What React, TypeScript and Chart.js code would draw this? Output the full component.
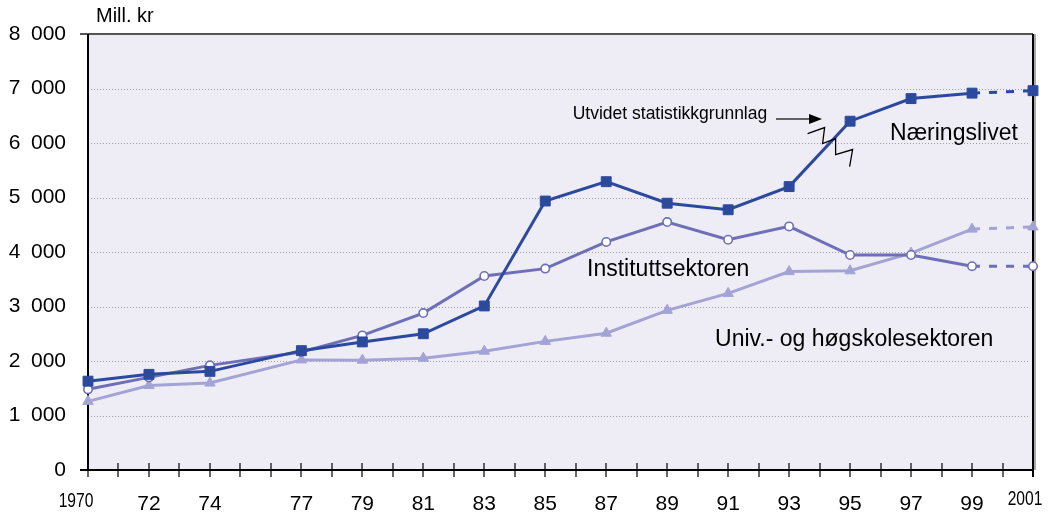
import React, { useEffect, useRef } from "react";
import { Chart, registerables } from "chart.js";

Chart.register(...registerables);

const years = [1970, 1972, 1974, 1977, 1979, 1981, 1983, 1985, 1987, 1989, 1991, 1993, 1995, 1997, 1999, 2001];
const naeringslivet = [1630, 1755, 1810, 2190, 2350, 2500, 3010, 4935, 5290, 4895, 4775, 5200, 6400, 6815, 6915, 6960];
const instituttsektoren = [1480, 1700, 1920, 2165, 2470, 2880, 3560, 3695, 4185, 4550, 4225, 4470, 3945, 3945, 3740, 3740];
const univsektoren = [1260, 1550, 1595, 2020, 2015, 2050, 2180, 2360, 2510, 2930, 3240, 3640, 3655, 3980, 4420, 4460];
const tickYears = [1970, 1972, 1974, 1977, 1979, 1981, 1983, 1985, 1987, 1989, 1991, 1993, 1995, 1997, 1999, 2001];
const tickLabels = ["1970", "72", "74", "77", "79", "81", "83", "85", "87", "89", "91", "93", "95", "97", "99", "2001"];
const yTickLabels = ["0", "1\u2002000", "2\u2002000", "3\u2002000", "4\u2002000", "5\u2002000", "6\u2002000", "7\u2002000", "8\u2002000"];
const seriesNames = ["Næringslivet", "Instituttsektoren", "Univ.- og høgskolesektoren"];
const edgeYears = [1970, 2001];

const DARK = "#2B4A9E";
const MID = "#6E6FB6";
const LIGHT = "#A4A3D6";
const FONT = "'Liberation Sans', Arial, Helvetica, sans-serif";

const toPoints = (vals: number[]) => years.map((y, i) => ({ x: y, y: vals[i] }));
const dashAfter1999 = { borderDash: (ctx: any) => (ctx.p0.parsed.x >= 1999 ? [8, 9] : undefined) };

const decor = {
  id: "decor",
  beforeDatasetsDraw(chart: any) {
    const { ctx, chartArea: a, scales } = chart;
    const ys = scales.y;
    ctx.save();
    ctx.fillStyle = "#EEECF4";
    ctx.fillRect(a.left, a.top, a.right - a.left, a.bottom - a.top);
    ctx.strokeStyle = "#a0a0a0";
    ctx.lineWidth = 1;
    ctx.setLineDash([1, 2]);
    for (let v = 1000; v < 8000; v += 1000) {
      const py = Math.round(ys.getPixelForValue(v)) + 0.5;
      ctx.beginPath();
      ctx.moveTo(a.left, py);
      ctx.lineTo(a.right - 3, py);
      ctx.stroke();
    }
    ctx.setLineDash([]);
    ctx.strokeStyle = "#555";
    ctx.lineWidth = 2;
    ctx.beginPath();
    ctx.moveTo(a.left - 8, a.top);
    ctx.lineTo(a.right, a.top);
    ctx.stroke();
    ctx.strokeStyle = "#aaa";
    ctx.beginPath();
    ctx.moveTo(a.right + 2, a.top);
    ctx.lineTo(a.right + 2, a.bottom);
    ctx.stroke();
    ctx.strokeStyle = "#000";
    ctx.beginPath();
    ctx.moveTo(a.right, a.top);
    ctx.lineTo(a.right, a.bottom + 7);
    ctx.stroke();
    ctx.beginPath();
    ctx.moveTo(a.left, a.top);
    ctx.lineTo(a.left, a.bottom);
    ctx.stroke();
    ctx.beginPath();
    ctx.moveTo(a.left - 8, a.bottom);
    ctx.lineTo(a.right, a.bottom);
    ctx.stroke();
    ctx.restore();
  },
  afterDraw(chart: any) {
    const { ctx, chartArea: a, scales } = chart;
    const xs = scales.x;
    const ys = scales.y;
    ctx.save();
    ctx.strokeStyle = "#000";
    ctx.lineWidth = 1.2;
    for (let yr = 1970; yr <= 2001; yr++) {
      const px = Math.round(xs.getPixelForValue(yr));
      ctx.beginPath();
      ctx.moveTo(px, a.bottom - 7);
      ctx.lineTo(px, a.bottom + 7);
      ctx.stroke();
    }
    // condensed edge year labels
    ctx.fillStyle = "#000";
    ctx.textBaseline = "middle";
    ctx.textAlign = "center";
    ctx.font = `20px ${FONT}`;
    const shifts = [-12, -8];
    const lifts = [0, -2];
    edgeYears.forEach((yr, i) => {
      const px = xs.getPixelForValue(yr) + shifts[i];
      ctx.save();
      ctx.translate(px, a.bottom + 31 + lifts[i]);
      ctx.scale(0.78, 1);
      ctx.fillText(tickLabels[tickYears.indexOf(yr)], 0, 0);
      ctx.restore();
    });
    ctx.textAlign = "left";
    ctx.font = `20px ${FONT}`;
    ctx.fillText("Mill. kr", a.left + 8, 16);
    ctx.font = `23px ${FONT}`;
    ctx.fillText(seriesNames[0], xs.getPixelForValue(1996.31), ys.getPixelForValue(6170));
    ctx.fillText(seriesNames[1], xs.getPixelForValue(1986.37), ys.getPixelForValue(3670));
    ctx.fillText(seriesNames[2], xs.getPixelForValue(1990.57), ys.getPixelForValue(2385));
    ctx.font = `17.5px ${FONT}`;
    const tx = xs.getPixelForValue(1985.9);
    const ty = ys.getPixelForValue(6530);
    ctx.fillText("Utvidet statistikkgrunnlag", tx, ty);
    const ax0 = xs.getPixelForValue(1992.57);
    const ax1 = xs.getPixelForValue(1994.08);
    const ay = ty + 5;
    ctx.strokeStyle = "#333";
    ctx.lineWidth = 1.5;
    ctx.beginPath();
    ctx.moveTo(ax0, ay);
    ctx.lineTo(ax1 - 10, ay);
    ctx.stroke();
    ctx.fillStyle = "#000";
    ctx.beginPath();
    ctx.moveTo(ax1, ay);
    ctx.lineTo(ax1 - 13, ay - 5);
    ctx.lineTo(ax1 - 13, ay + 5);
    ctx.closePath();
    ctx.fill();
    const zx = xs.getPixelForValue(1994);
    const zy = ys.getPixelForValue(5880);
    const pts = [[-12, -16], [5, -22], [3, -6], [16, -11], [16, 5], [33, 0], [30, 17]];
    ctx.strokeStyle = "#000";
    ctx.lineWidth = 1.3;
    ctx.beginPath();
    pts.forEach(([dx, dy], i) => (i ? ctx.lineTo(zx + dx, zy + dy) : ctx.moveTo(zx + dx, zy + dy)));
    ctx.stroke();
    ctx.restore();
  },
};

export default function App() {
  const ref = useRef<HTMLCanvasElement>(null);
  useEffect(() => {
    if (!ref.current) return;
    const chart = new Chart(ref.current, {
      type: "line",
      data: {
        datasets: [
          {
            label: seriesNames[0],
            data: toPoints(naeringslivet),
            borderColor: DARK,
            backgroundColor: DARK,
            borderWidth: 3,
            pointStyle: "rect",
            pointRadius: 7,
            pointBorderWidth: 1,
            pointBorderColor: DARK,
            pointBackgroundColor: DARK,
            segment: dashAfter1999,
            clip: false,
          } as any,
          {
            label: seriesNames[1],
            data: toPoints(instituttsektoren),
            borderColor: MID,
            backgroundColor: "#fff",
            borderWidth: 3,
            pointStyle: "circle",
            pointRadius: 4.2,
            pointBorderWidth: 1.6,
            pointBorderColor: MID,
            pointBackgroundColor: "#fff",
            segment: dashAfter1999,
            clip: false,
          } as any,
          {
            label: seriesNames[2],
            data: toPoints(univsektoren),
            borderColor: LIGHT,
            backgroundColor: LIGHT,
            borderWidth: 3,
            pointStyle: "triangle",
            pointRadius: 6,
            pointBorderWidth: 1,
            pointBorderColor: LIGHT,
            pointBackgroundColor: LIGHT,
            segment: dashAfter1999,
            clip: false,
          } as any,
        ],
      },
      options: {
        animation: false,
        responsive: false,
        events: [],
        layout: { padding: { left: 0, top: 34, right: 17, bottom: 0 } },
        plugins: { legend: { display: false }, tooltip: { enabled: false }, title: { display: false } },
        scales: {
          x: {
            type: "linear",
            min: 1970,
            max: 2001,
            grid: { display: false, drawTicks: false },
            border: { display: false },
            afterFit: (s: any) => { s.height = 43; s.paddingLeft = 0; s.paddingRight = 0; },
            afterBuildTicks: (s: any) => { s.ticks = tickYears.map((v) => ({ value: v })); },
            ticks: {
              autoSkip: false,
              maxRotation: 0,
              padding: 22,
              color: "#000",
              font: { family: FONT, size: 21 },
              callback: (v: any) => {
                const n = Number(v);
                if (edgeYears.includes(n)) return "";
                const i = tickYears.indexOf(n);
                return i >= 0 ? tickLabels[i] : "";
              },
            },
          },
          y: {
            min: 0,
            max: 8000,
            grid: { display: false, drawTicks: false },
            border: { display: false },
            afterFit: (s: any) => { s.width = 88; s.paddingTop = 0; s.paddingBottom = 0; },
            ticks: {
              stepSize: 1000,
              padding: 22,
              color: "#000",
              font: { family: FONT, size: 21 },
              callback: (v: any) => yTickLabels[Math.round(Number(v) / 1000)],
            },
          },
        },
      },
      plugins: [decor],
    });
    return () => chart.destroy();
  }, []);
  return (
    <div style={{ position: "absolute", left: 0, top: 0, width: 1050, height: 513, background: "#fff" }}>
      <canvas ref={ref} width={1050} height={513} style={{ display: "block" }} />
    </div>
  );
}
